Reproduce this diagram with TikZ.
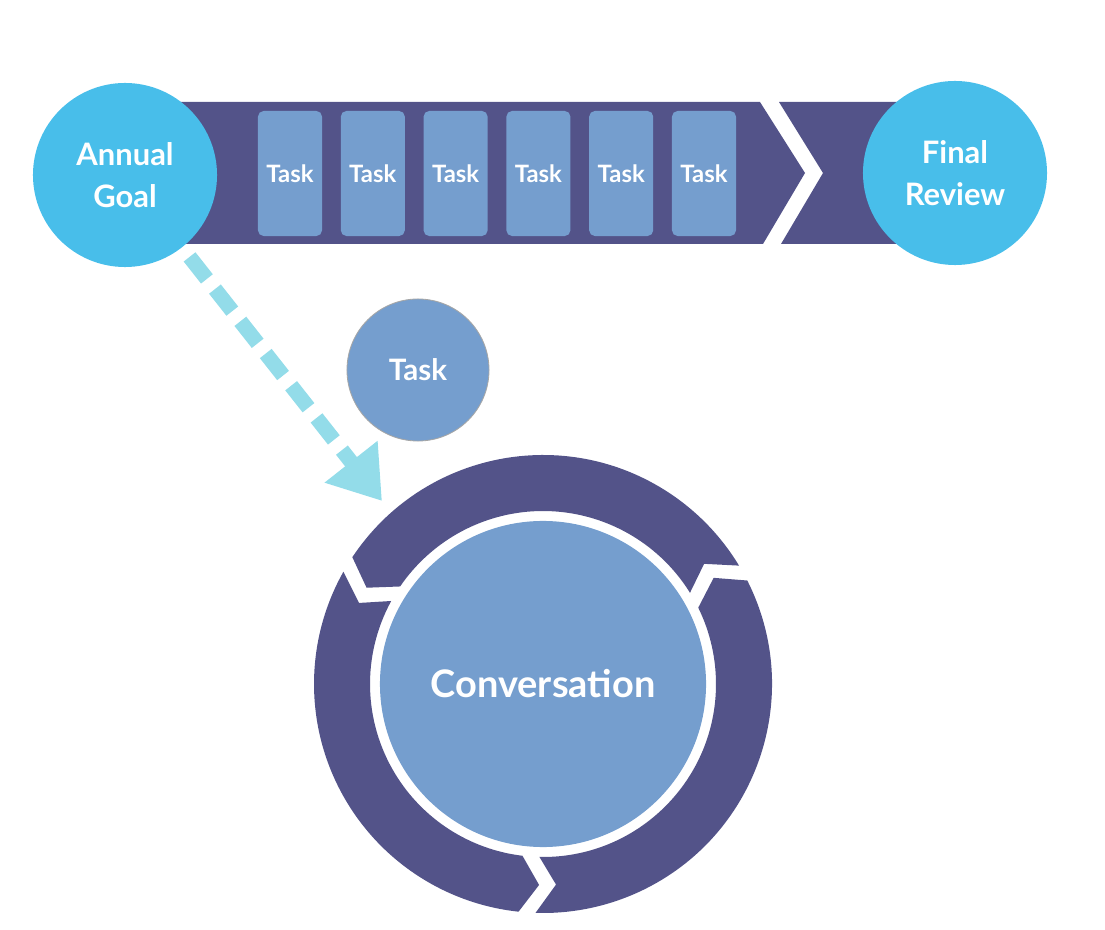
\documentclass[tikz,border=0pt]{standalone}
\usepackage{fontspec}
\setmainfont{Lato}
\usepackage{tikz}
\usetikzlibrary{arrows.meta}
\definecolor{bandcol}{HTML}{535389}
\definecolor{goalcol}{HTML}{48BEEA}
\definecolor{taskcol}{HTML}{759ECE}
\definecolor{arrowcol}{HTML}{93DCE9}
\begin{document}
\begin{tikzpicture}[x=0.025cm, y=0.025cm,
    endcircle/.style={circle, fill=goalcol, minimum size=4.6cm, inner sep=0pt, text=white, align=center, font=\fontsize{22}{30}\selectfont\bfseries},
    taskbox/.style={rectangle, rounded corners=4pt, fill=taskcol, minimum width=1.6cm, minimum height=3.125cm, inner sep=0pt, text=white, font=\fontsize{17}{20}\selectfont\bfseries},
    goalarrow/.style={arrowcol, line width=0.375cm, dash pattern=on 0.7cm off 0.325cm, -{Triangle[length=1.25cm, width=1.6cm]}}]
\useasboundingbox (0,0) rectangle (1105,929);
% Timeline band with chevron cut
\fill[bandcol] (150,827) -- (760,827) -- (805,756) -- (763,685) -- (150,685) -- cycle;
\fill[bandcol] (779,827) -- (900,827) -- (900,685) -- (781,685) -- (823,756) -- cycle;
\node[endcircle] (goal) at (125,754) {Annual\\Goal};
\node[endcircle] (review) at (955,756) {Final\\Review};
\foreach \i in {1,...,6}
  \node[taskbox] (task\i) at ({290+82.8*(\i-1)},755.5) {Task};
\node[circle, fill=taskcol, draw=gray!70, line width=0.6pt, minimum size=3.55cm, inner sep=0pt, text=white, font=\fontsize{21}{24}\selectfont\bfseries] (onetask) at (418,559) {Task};
% Ring of three arrow segments
\coordinate (ringcenter) at (543,245);
\foreach \ga/\gb in {29/148.5, 148.5/266, 266/389}
  \fill[bandcol, shift={(ringcenter)}] (\ga+2.13:229) -- (\ga+7.72:201) -- (\ga+2.82:173)
    arc[start angle=\ga+2.82, end angle=\gb-2.82, radius=173] -- (\gb+2.88:201) -- (\gb-2.13:229)
    arc[start angle=\gb-2.13, end angle=\ga+2.13, radius=229] -- cycle;
\node[circle, fill=taskcol, minimum size=8.15cm, inner sep=0pt, text=white, font=\fontsize{27}{30}\selectfont\bfseries] (ring) at (ringcenter) {Conversation};
\coordinate (ringtip) at (382,428);
\draw[goalarrow, shorten <=0.3cm] (goal) -- (ringtip);
\end{tikzpicture}
\end{document}
